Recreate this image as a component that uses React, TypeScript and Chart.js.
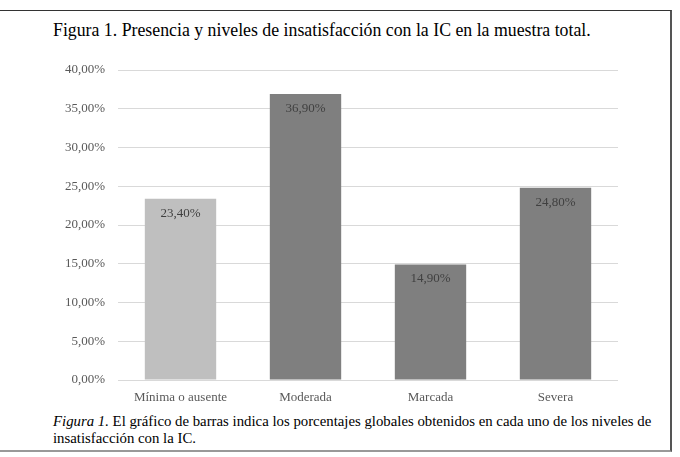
import React, { useEffect, useRef } from "react";
import { Chart, registerables } from "chart.js";

Chart.register(...registerables);

const categories = ["Mínima o ausente", "Moderada", "Marcada", "Severa"];
const values = [23.4, 36.9, 14.9, 24.8];
const barColors = ["#bfbfbf", "#7f7f7f", "#7f7f7f", "#7f7f7f"];
const yTicks = [0, 5, 10, 15, 20, 25, 30, 35, 40];

const fmt = (v: number) => v.toFixed(2).replace(".", ",") + "%";
const FONT = "'Liberation Serif', 'Times New Roman', serif";

const labelPlugin = {
  id: "barLabels",
  afterDatasetsDraw(chart: any) {
    const ctx = chart.ctx;
    const meta = chart.getDatasetMeta(0);
    ctx.save();
    ctx.font = "13px " + FONT;
    ctx.fillStyle = "#404040";
    ctx.textAlign = "center";
    ctx.textBaseline = "middle";
    meta.data.forEach((bar: any, i: number) => {
      ctx.fillText(fmt(values[i]), bar.x, bar.y + 14.5);
    });
    ctx.restore();
  },
};

export default function App() {
  const ref = useRef<HTMLCanvasElement | null>(null);
  useEffect(() => {
    document.body.style.margin = "0";
    const c = new Chart(ref.current as HTMLCanvasElement, {
      type: "bar",
      data: {
        labels: categories,
        datasets: [
          {
            data: values,
            backgroundColor: barColors,
            categoryPercentage: 1,
            barPercentage: 0.571,
          },
        ],
      },
      options: {
        animation: false,
        responsive: false,
        maintainAspectRatio: false,
        layout: { padding: { top: 15, right: 62, left: 0, bottom: 0 } },
        plugins: { legend: { display: false }, tooltip: { enabled: false } },
        scales: {
          x: {
            grid: { display: false, drawTicks: false },
            border: { display: false },
            ticks: { color: "#595959", font: { family: FONT, size: 13 }, padding: 10 },
            afterFit(scale: any) {
              scale.height = 30;
            },
          },
          y: {
            min: 0,
            max: 40,
            afterBuildTicks(scale: any) {
              scale.ticks = yTicks.map((v) => ({ value: v }));
            },
            grid: { color: "#d9d9d9", drawTicks: false, lineWidth: 1 },
            border: { display: false },
            ticks: {
              color: "#595959",
              font: { family: FONT, size: 13 },
              padding: 13,
              callback: (v: any) => fmt(Number(v)),
            },
            afterFit(scale: any) {
              scale.width = 118;
              scale.paddingTop = 0;
              scale.paddingBottom = 0;
            },
          },
        },
      },
      plugins: [labelPlugin],
    });
    return () => c.destroy();
  }, []);

  return (
    <div style={{ position: "relative", width: 680, height: 457, background: "#fff", overflow: "hidden" }}>
      <div
        style={{
          position: "absolute",
          left: -4,
          top: 10,
          width: 676,
          height: 442,
          borderTop: "1.5px solid #333",
          borderRight: "2px solid #555",
          borderBottom: "2px solid #999",
          borderLeft: "2px solid #999",
          boxSizing: "border-box",
        }}
      />
      <div
        style={{
          position: "absolute",
          left: 53,
          top: 19,
          fontFamily: FONT,
          fontSize: 17.8,
          lineHeight: "22px",
          color: "#000",
          whiteSpace: "nowrap",
        }}
      >
        Figura 1. Presencia y niveles de insatisfacción con la IC en la muestra total.
      </div>
      <canvas ref={ref} width={680} height={355} style={{ position: "absolute", left: 0, top: 55, width: 680, height: 355 }} />
      <div
        style={{
          position: "absolute",
          left: 53,
          top: 413,
          width: 614,
          fontFamily: FONT,
          fontSize: 14.8,
          lineHeight: "17px",
          color: "#000",
        }}
      >
        <i>Figura 1.</i> El gráfico de barras indica los porcentajes globales obtenidos en cada uno de los niveles de insatisfacción con la IC.
      </div>
    </div>
  );
}
